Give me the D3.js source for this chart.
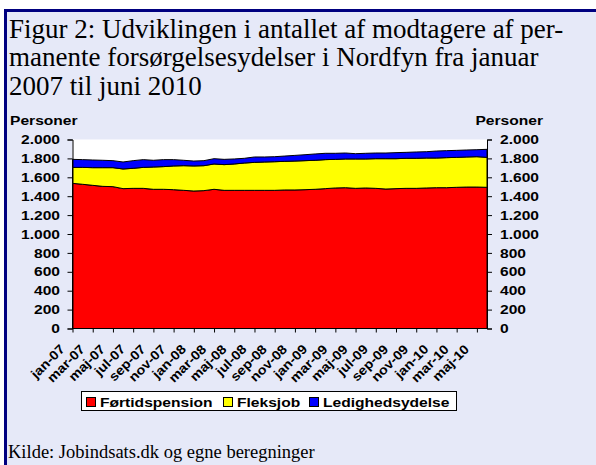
<!DOCTYPE html>
<html>
<head>
<meta charset="utf-8">
<script src="https://cdn.jsdelivr.net/npm/d3@7"></script>
<style>
  html, body { margin: 0; padding: 0; background: #fff; }
  svg { display: block; }
</style>
</head>
<body>
<div id="chart"></div>
<script>
// DATA
// Months jan-07 .. jun-10
const categories = [
  "jan-07","feb-07","mar-07","apr-07","maj-07","jun-07","jul-07","aug-07","sep-07","okt-07","nov-07","dec-07",
  "jan-08","feb-08","mar-08","apr-08","maj-08","jun-08","jul-08","aug-08","sep-08","okt-08","nov-08","dec-08",
  "jan-09","feb-09","mar-09","apr-09","maj-09","jun-09","jul-09","aug-09","sep-09","okt-09","nov-09","dec-09",
  "jan-10","feb-10","mar-10","apr-10","maj-10","jun-10"
]
// Førtidspension
const fortidspension = [
  1536,1526,1515,1504,1501,1480,1483,1483,1473,1473,1469,1462,
  1455,1459,1473,1462,1462,1462,1462,1462,1462,1466,1466,1469,
  1473,1480,1487,1490,1483,1487,1483,1476,1480,1483,1483,1487,
  1490,1490,1494,1497,1497,1494
]
// Fleksjob
const fleksjob = [
  169,179,187,198,201,208,212,222,236,240,251,261,
  265,264,268,272,279,289,296,300,303,303,306,307,
  307,307,303,304,311,307,314,321,317,318,318,317,
  314,318,317,318,321,317
]
// Ledighedsydelse
const ledighedsydelse = [
  85,82,81,78,74,74,81,82,71,74,67,57,
  52,53,56,56,53,50,57,53,53,56,60,63,
  67,67,64,63,56,60,60,60,64,63,67,67,
  74,74,74,74,74,85
]
const seriesNames = ["Førtidspension", "Fleksjob", "Ledighedsydelse"]
const seriesColors = ["#ff0000", "#ffff00", "#0000ff"]
const yTicks = [0,200,400,600,800,1000,1200,1400,1600,1800,2000]
const titleLines = [
  "Figur 2: Udviklingen i antallet af modtagere af per-",
  "manente forsørgelsesydelser i Nordfyn fra januar",
  "2007 til juni 2010"
]
const sourceText = "Kilde: Jobindsats.dk og egne beregninger"

// SETUP
const width = 596, height = 465
const plot = { left: 72.5, right: 487, top: 139.5, bottom: 328.5 }
const boldFont = "Arial, 'Liberation Sans', sans-serif"
const serifFont = "'Times New Roman', 'Liberation Serif', serif"
// chart text is drawn wider than plain Arial
const stretch = 1.2

const svg = d3.select("#chart").append("svg").attr("width", width).attr("height", height)

// Panel background with navy border at top and left
svg.append("rect").attr("x", 4).attr("y", 9).attr("width", width).attr("height", height)
  .attr("fill", "#e6e9f8")
svg.append("rect").attr("x", 4).attr("y", 9).attr("width", width).attr("height", 3).attr("fill", "#000080")
svg.append("rect").attr("x", 4).attr("y", 9).attr("width", 3).attr("height", height).attr("fill", "#000080")

// Title
svg.selectAll(".title").data(titleLines).enter().append("text")
  .attr("class", "title")
  .attr("x", 9).attr("y", (d, i) => 37.5 + i * 28.5)
  .style("font-family", serifFont).style("font-size", "27px").attr("fill", "#000")
  .text(d => d)

// Stretched bold text helper
function label(parent, x, y, str, anchor, rotate, sx) {
  const g = parent.append("g")
    .attr("transform", `translate(${x},${y})` + (rotate ? ` rotate(${rotate})` : "") + ` scale(${sx || stretch},1)`)
  return g.append("text")
    .style("font-family", boldFont).style("font-size", "13px").style("font-weight", "bold")
    .attr("text-anchor", anchor || "start").attr("fill", "#000")
    .text(str)
}

// Scales
const xScale = d3.scalePoint().domain(categories).range([plot.left, plot.right])
const yScale = d3.scaleLinear().domain([0, 2000]).range([plot.bottom, plot.top])

// Plot area
svg.append("rect").attr("x", plot.left).attr("y", plot.top)
  .attr("width", plot.right - plot.left).attr("height", plot.bottom - plot.top).attr("fill", "#fff")

// Stack the series
const table = categories.map((c, i) => ({
  month: c,
  "Førtidspension": fortidspension[i],
  "Fleksjob": fleksjob[i],
  "Ledighedsydelse": ledighedsydelse[i]
}))
const stacked = d3.stack().keys(seriesNames)(table)

const area = d3.area()
  .x(d => xScale(d.data.month))
  .y0(d => yScale(d[0]))
  .y1(d => yScale(d[1]))

svg.selectAll(".area").data(stacked).enter().append("path")
  .attr("class", "area")
  .attr("d", area)
  .attr("fill", (d, i) => seriesColors[i])
  .attr("stroke", "#000").attr("stroke-width", 1).attr("stroke-linejoin", "round")

// Axes
const leftAxis = svg.append("g").attr("transform", `translate(${plot.left},0)`)
  .call(d3.axisLeft(yScale).tickValues(yTicks).tickSize(5).tickFormat(""))
const rightAxis = svg.append("g").attr("transform", `translate(${plot.right},0)`)
  .call(d3.axisRight(yScale).tickValues(yTicks).tickSize(5).tickFormat(""))
const xTickCats = categories.filter((c, i) => i % 2 == 0)
const bottomAxis = svg.append("g").attr("transform", `translate(0,${plot.bottom})`)
  .call(d3.axisBottom(xScale).tickValues(xTickCats).tickSize(4).tickFormat(""))
;[leftAxis, rightAxis, bottomAxis].forEach(a => {
  a.select(".domain").attr("stroke", "#000")
  a.selectAll(".tick line").attr("stroke", "#000")
})
bottomAxis.select(".domain").attr("d", `M${plot.left},0H${plot.right}`)

// Tick labels
const fmt = v => d3.format(",")(v).replace(/,/g, ".")
yTicks.forEach(v => {
  label(svg, 60, yScale(v) + 4.6, fmt(v), "end")
  label(svg, 500, yScale(v) + 4.6, fmt(v), "start")
})
xTickCats.forEach(c => {
  label(svg, xScale(c) - 7, plot.bottom + 21.5, c, "end", -45, 1.1)
})

// Axis titles
label(svg, 10, 125, "Personer", "start")
label(svg, 543, 125, "Personer", "end")

// Legend
const legend = svg.append("g")
legend.append("rect").attr("x", 81.5).attr("y", 391.5).attr("width", 375).attr("height", 19)
  .attr("fill", "#fff").attr("stroke", "#000").attr("stroke-width", 1)
const legendX = [86, 223, 309]
seriesNames.forEach((name, i) => {
  legend.append("rect").attr("x", legendX[i] + 0.5).attr("y", 397.5).attr("width", 9).attr("height", 9)
    .attr("fill", seriesColors[i]).attr("stroke", "#000").attr("stroke-width", 1)
  label(legend, legendX[i] + 14, 406.5, name, "start")
})

// Source
svg.append("text").attr("x", 8).attr("y", 458)
  .style("font-family", serifFont).style("font-size", "18.5px").attr("fill", "#000")
  .text(sourceText)
</script>
</body>
</html>
